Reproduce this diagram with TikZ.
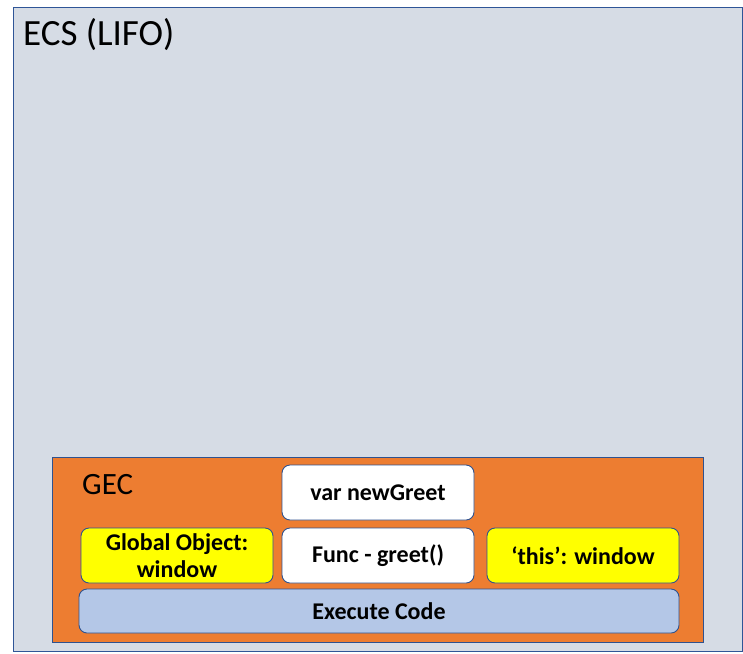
\documentclass[tikz,border=0pt]{standalone}
\usepackage{fontspec}
\setmainfont{Carlito}
\definecolor{ecsfill}{HTML}{D6DCE5}
\definecolor{ecsline}{HTML}{2F5597}
\definecolor{gecfill}{HTML}{ED7D31}
\definecolor{boxline}{HTML}{2F528F}
\definecolor{yel}{HTML}{FFFF00}
\definecolor{execfill}{HTML}{B4C7E7}
\begin{document}
\begin{tikzpicture}[x=1pt,y=-1pt,
  frame/.style={draw=ecsline,line width=1pt,inner sep=0pt},
  cell/.style={draw=boxline,line width=0.9pt,rounded corners=8pt,inner sep=2pt,
    font=\fontsize{24}{27}\selectfont\bfseries,align=center,text=black},
  ttl/.style={inner sep=0pt,anchor=base west,font=\fontsize{37}{40}\selectfont}]
\useasboundingbox (0,0) rectangle (743,653);
\node[frame,fill=ecsfill,minimum width=729pt,minimum height=644pt] (ecs) at (377.5,329) {};
\node[ttl] (ecst) at (23,45) {ECS (LIFO)};
\node[frame,draw=boxline,fill=gecfill,minimum width=651pt,minimum height=185pt] (gec) at (377.5,549.5) {};
\node[ttl,font=\fontsize{31}{34}\selectfont] (gect) at (82,494) {GEC};
\node[cell,fill=white,minimum width=192pt,minimum height=55pt] (vg) at (378,492.5) {var newGreet};
\node[cell,fill=yel,minimum width=192pt,minimum height=55pt] (go) at (177,555.5) {Global Object:\\window};
\node[cell,fill=white,minimum width=192pt,minimum height=55pt] (fg) at (378,555.5) {Func - greet()};
\node[cell,fill=yel,minimum width=192pt,minimum height=55pt] (th) at (583,555.5) {‘this’: window};
\node[cell,fill=execfill,minimum width=600pt,minimum height=44pt] (ex) at (379,611) {Execute Code};
\end{tikzpicture}
\end{document}
